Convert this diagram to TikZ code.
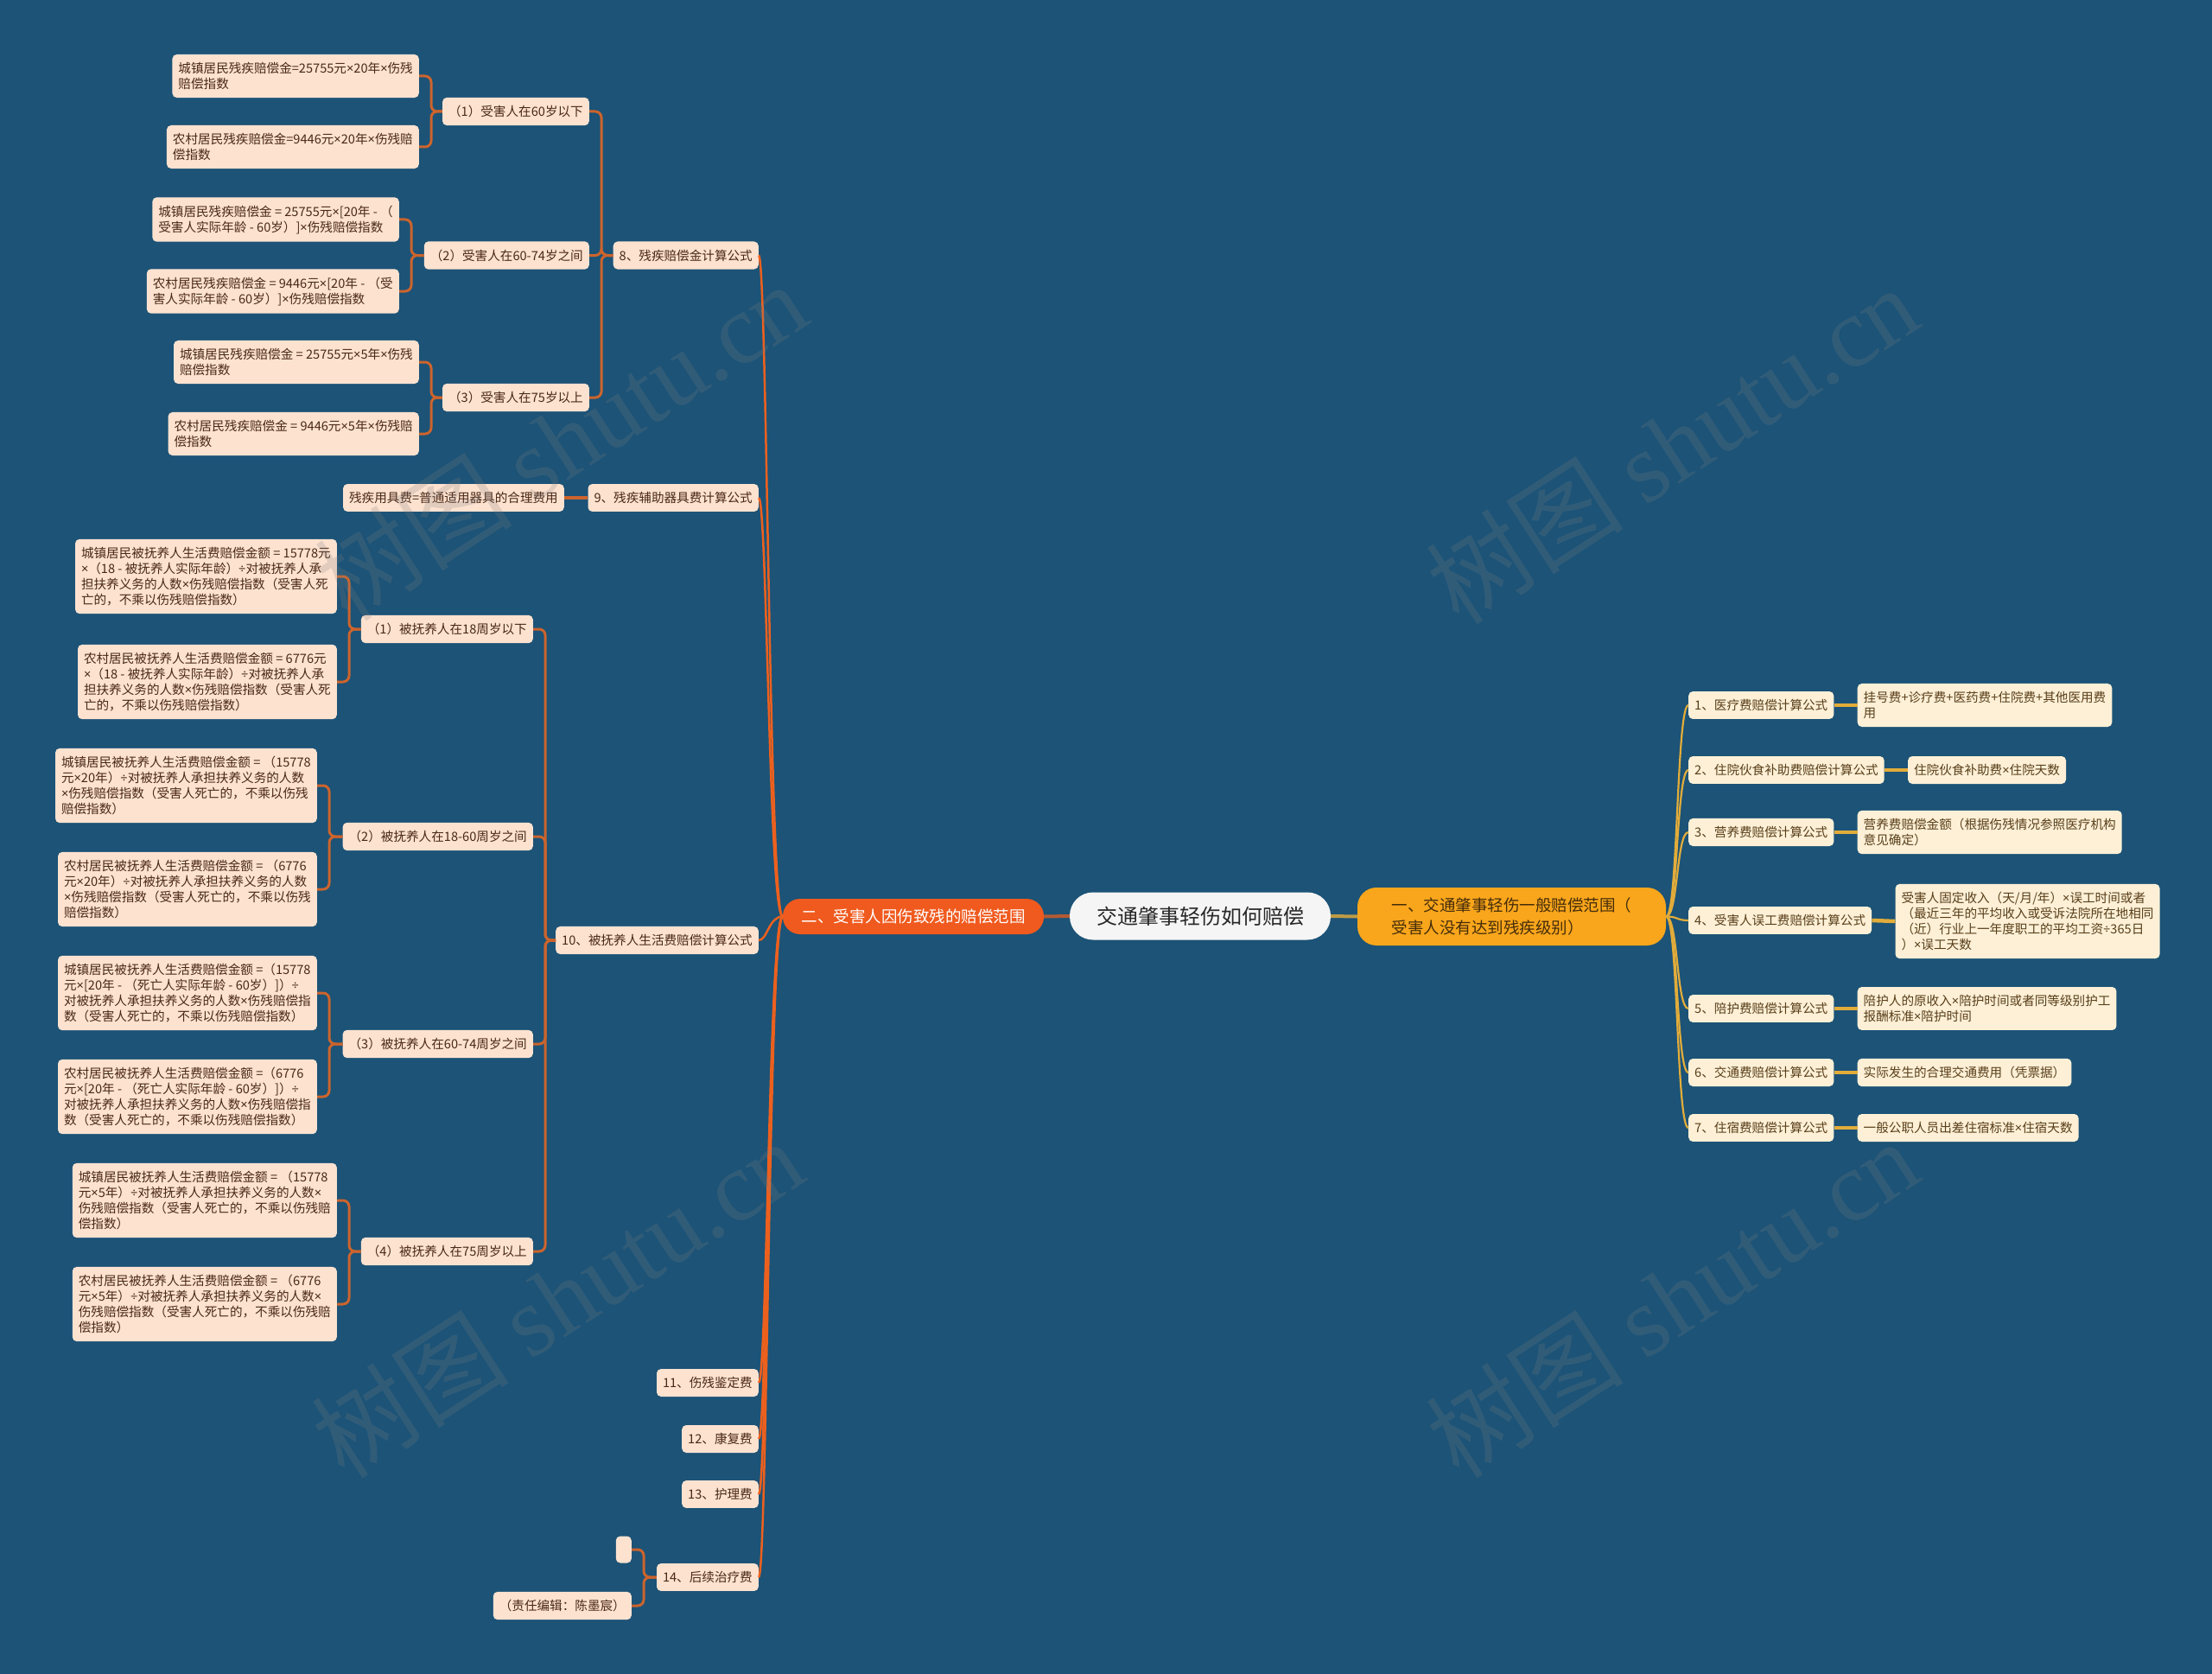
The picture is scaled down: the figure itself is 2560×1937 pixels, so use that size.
\documentclass[tikz,border=0pt]{standalone}
\usepackage{fontspec}
\setmainfont{Noto Sans CJK SC}
\newfontfamily\wmserif{Liberation Serif}
\newfontfamily\latf{Noto Sans}
\newcommand\mul{{\latf ×}}
\newcommand\dvd{{\latf ÷}}
\usetikzlibrary{calc}
\definecolor{bgc}{RGB}{28,83,119}
\definecolor{peach}{RGB}{253,226,208}
\definecolor{cream}{RGB}{253,240,214}
\definecolor{ltxt}{RGB}{74,40,22}
\definecolor{rtxt}{RGB}{88,62,26}
\definecolor{lorange}{RGB}{236,96,30}
\definecolor{lbrown}{RGB}{204,100,45}
\definecolor{gold}{RGB}{226,172,58}
\definecolor{yel}{RGB}{249,166,28}
\definecolor{lred}{RGB}{240,90,30}
\definecolor{centerfill}{RGB}{245,245,245}
\definecolor{ctxt}{RGB}{40,40,40}
\definecolor{ytxt}{RGB}{70,45,10}
\definecolor{cgold}{RGB}{190,155,70}
\definecolor{cbrown}{RGB}{180,90,50}
\newcommand\fszs{\fontsize{14.6}{18}\selectfont}
\begin{document}
\begin{tikzpicture}[x=1pt,y=-1pt,
  every node/.style={inner sep=0},
  lnode/.style={fill=peach, text=ltxt, rounded corners=5, inner xsep=7, inner ysep=9.2, align=left, font=\fszs},
  rnode/.style={fill=cream, text=rtxt, rounded corners=5, inner xsep=7, inner ysep=9.2, align=left, font=\fszs},
  lspine/.style={draw=lorange, line width=2.5},
  lbr/.style={draw=lbrown, line width=3, rounded corners=7},
  rspine/.style={draw=gold, line width=2.2},
  rline/.style={draw=gold, line width=4.5},
]
\fill[bgc] (0,0) rectangle (2560,1937);

% ---------- main nodes ----------
\node[fill=centerfill, text=ctxt, rounded corners=27, minimum width=302, minimum height=55, font=\fontsize{24}{28}\selectfont] (ct) at (1389,1060) {交通肇事轻伤如何赔偿};
\node[fill=yel, text=ytxt, rounded corners=22, minimum width=357, minimum height=67, align=left, font=\fontsize{18.5}{26}\selectfont] (rm) at (1749.5,1060.5) {一、交通肇事轻伤一般赔偿范围（\\受害人没有达到残疾级别）};
\node[fill=lred, text=white, rounded corners=20, minimum width=302, minimum height=41, font=\fontsize{18.5}{22}\selectfont] (lm) at (1057,1060.5) {二、受害人因伤致残的赔偿范围};

% ---------- right level 2 ----------
\node[rnode, anchor=west] (r1) at (1954,816) {1、医疗费赔偿计算公式};
\node[rnode, anchor=west] (r2) at (1954,891) {2、住院伙食补助费赔偿计算公式};
\node[rnode, anchor=west] (r3) at (1954,963) {3、营养费赔偿计算公式};
\node[rnode, anchor=west] (r4) at (1954,1065) {4、受害人误工费赔偿计算公式};
\node[rnode, anchor=west] (r5) at (1954,1167) {5、陪护费赔偿计算公式};
\node[rnode, anchor=west] (r6) at (1954,1241) {6、交通费赔偿计算公式};
\node[rnode, anchor=west] (r7) at (1954,1305) {7、住宿费赔偿计算公式};

% ---------- right leaves ----------
\node[rnode, anchor=west] (l1) at ($(r1.east)+(27,0)$) {挂号费+诊疗费+医药费+住院费+其他医用费\\用};
\node[rnode, anchor=west] (l2) at ($(r2.east)+(27,0)$) {住院伙食补助费\mul 住院天数};
\node[rnode, anchor=west] (l3) at ($(r3.east)+(27,0)$) {营养费赔偿金额（根据伤残情况参照医疗机构\\意见确定）};
\node[rnode, anchor=west] (l4) at ($(r4.east)+(27,1)$) {受害人固定收入（天/月/年）\mul 误工时间或者\\（最近三年的平均收入或受诉法院所在地相同\\（近）行业上一年度职工的平均工资\dvd 365日\\）\mul 误工天数};
\node[rnode, anchor=west] (l5) at ($(r5.east)+(27,0)$) {陪护人的原收入\mul 陪护时间或者同等级别护工\\报酬标准\mul 陪护时间};
\node[rnode, anchor=west] (l6) at ($(r6.east)+(27,0)$) {实际发生的合理交通费用（凭票据）};
\node[rnode, anchor=west] (l7) at ($(r7.east)+(27,0)$) {一般公职人员出差住宿标准\mul 住宿天数};

% ---------- left level 2 ----------
\node[lnode, anchor=east] (n8) at (878,295.5) {8、残疾赔偿金计算公式};
\node[lnode, anchor=east] (n9) at (878,576) {9、残疾辅助器具费计算公式};
\node[lnode, anchor=east] (n10) at (878,1088) {10、被抚养人生活费赔偿计算公式};
\node[lnode, anchor=east] (n11) at (878,1600) {11、伤残鉴定费};
\node[lnode, anchor=east] (n12) at (878,1665) {12、康复费};
\node[lnode, anchor=east] (n13) at (878,1729) {13、护理费};
\node[lnode, anchor=east] (n14) at (878,1825) {14、后续治疗费};

% ---------- left level 3 ----------
\node[lnode, anchor=east] (n8a) at (682,129) {（1）受害人在60岁以下};
\node[lnode, anchor=east] (n8b) at (682,295.5) {（2）受害人在60-74岁之间};
\node[lnode, anchor=east] (n8c) at (682,460) {（3）受害人在75岁以上};
\node[lnode, anchor=east] (n9a) at (653,576) {残疾用具费=普通适用器具的合理费用};
\node[lnode, anchor=east] (n10a) at (617,728) {（1）被抚养人在18周岁以下};
\node[lnode, anchor=east] (n10b) at (617,968) {（2）被抚养人在18-60周岁之间};
\node[lnode, anchor=east] (n10c) at (617,1208) {（3）被抚养人在60-74周岁之间};
\node[lnode, anchor=east] (n10d) at (617,1448) {（4）被抚养人在75周岁以上};
\node[lnode, anchor=east, minimum width=18, minimum height=31] (n14a) at (731,1793) {};
\node[lnode, anchor=east] (n14b) at (731,1858) {（责任编辑：陈墨宸）};

% ---------- left leaves ----------
\node[lnode, anchor=east] (n8a1) at (485,88) {城镇居民残疾赔偿金=25755元\mul 20年\mul 伤残\\赔偿指数};
\node[lnode, anchor=east] (n8a2) at (485,170) {农村居民残疾赔偿金=9446元\mul 20年\mul 伤残赔\\偿指数};
\node[lnode, anchor=east] (n8b1) at (462,254) {城镇居民残疾赔偿金 = 25755元\mul [20年 - （\\受害人实际年龄 - 60岁）]\mul 伤残赔偿指数};
\node[lnode, anchor=east] (n8b2) at (462,337) {农村居民残疾赔偿金 = 9446元\mul [20年 - （受\\害人实际年龄 - 60岁）]\mul 伤残赔偿指数};
\node[lnode, anchor=east] (n8c1) at (485,419) {城镇居民残疾赔偿金 = 25755元\mul 5年\mul 伤残\\赔偿指数};
\node[lnode, anchor=east] (n8c2) at (485,502) {农村居民残疾赔偿金 = 9446元\mul 5年\mul 伤残赔\\偿指数};

\node[lnode, anchor=east] (n10a1) at (390,667) {城镇居民被抚养人生活费赔偿金额 = 15778元\\\mul（18 - 被抚养人实际年龄）\dvd 对被抚养人承\\担扶养义务的人数\mul 伤残赔偿指数（受害人死\\亡的，不乘以伤残赔偿指数）};
\node[lnode, anchor=east] (n10a2) at (390,789) {农村居民被抚养人生活费赔偿金额 = 6776元\\\mul（18 - 被抚养人实际年龄）\dvd 对被抚养人承\\担扶养义务的人数\mul 伤残赔偿指数（受害人死\\亡的，不乘以伤残赔偿指数）};
\node[lnode, anchor=east] (n10b1) at (367,909) {城镇居民被抚养人生活费赔偿金额 = （15778\\元\mul 20年）\dvd 对被抚养人承担扶养义务的人数\\\mul 伤残赔偿指数（受害人死亡的，不乘以伤残\\赔偿指数）};
\node[lnode, anchor=east] (n10b2) at (367,1029) {农村居民被抚养人生活费赔偿金额 = （6776\\元\mul 20年）\dvd 对被抚养人承担扶养义务的人数\\\mul 伤残赔偿指数（受害人死亡的，不乘以伤残\\赔偿指数）};
\node[lnode, anchor=east] (n10c1) at (367,1149) {城镇居民被抚养人生活费赔偿金额 =（15778\\元\mul [20年 - （死亡人实际年龄 - 60岁）]）\dvd\\对被抚养人承担扶养义务的人数\mul 伤残赔偿指\\数（受害人死亡的，不乘以伤残赔偿指数）};
\node[lnode, anchor=east] (n10c2) at (367,1269) {农村居民被抚养人生活费赔偿金额 =（6776\\元\mul [20年 - （死亡人实际年龄 - 60岁）]）\dvd\\对被抚养人承担扶养义务的人数\mul 伤残赔偿指\\数（受害人死亡的，不乘以伤残赔偿指数）};
\node[lnode, anchor=east] (n10d1) at (390,1389) {城镇居民被抚养人生活费赔偿金额 = （15778\\元\mul 5年）\dvd 对被抚养人承担扶养义务的人数\mul\\伤残赔偿指数（受害人死亡的，不乘以伤残赔\\偿指数）};
\node[lnode, anchor=east] (n10d2) at (390,1509) {农村居民被抚养人生活费赔偿金额 = （6776\\元\mul 5年）\dvd 对被抚养人承担扶养义务的人数\mul\\伤残赔偿指数（受害人死亡的，不乘以伤残赔\\偿指数）};

% ---------- connectors ----------
\draw[line width=4, cgold] (ct.east) -- (rm.west);
\draw[line width=4, cbrown] (ct.west) -- (lm.east);
\foreach \n in {r1,r2,r3,r4,r5,r6,r7}
  \draw[rspine] (rm.east) .. controls ($(rm.east)+(14,0)$) and ($(\n.west)+(-14,0)$) .. (\n.west);
\foreach \a/\b in {r1/l1,r2/l2,r3/l3,r4/l4,r5/l5,r6/l6,r7/l7}
  \draw[rline] (\a.east) -- (\b.west);
\foreach \n in {n8,n9,n10,n11,n12,n13,n14}
  \draw[lspine] (lm.west) .. controls ($(lm.west)+(-16,0)$) and ($(\n.east)+(10,0)$) .. (\n.east);
\foreach \p/\c in {n8/n8a,n8/n8b,n8/n8c,n10/n10a,n10/n10b,n10/n10c,n10/n10d,n14/n14a,n14/n14b,
  n8a/n8a1,n8a/n8a2,n8b/n8b1,n8b/n8b2,n8c/n8c1,n8c/n8c2,
  n10a/n10a1,n10a/n10a2,n10b/n10b1,n10b/n10b2,n10c/n10c1,n10c/n10c2,n10d/n10d1,n10d/n10d2}
  \draw[lbr] (\p.west) -| ($(\c.east)+(14,0)$) -- (\c.east);
\draw[lbr, line width=4] (n9.west) -- (n9a.east);

% ---------- watermarks ----------
\foreach \x/\y in {649/510,1935/514,645/1502,1935/1502}
  \node[rotate=33, text=gray, text opacity=0.22, font=\fontsize{115}{120}\selectfont] (wm-\x-\y) at (\x,\y) {树图 {\wmserif shutu.cn}};
\end{tikzpicture}
\end{document}
